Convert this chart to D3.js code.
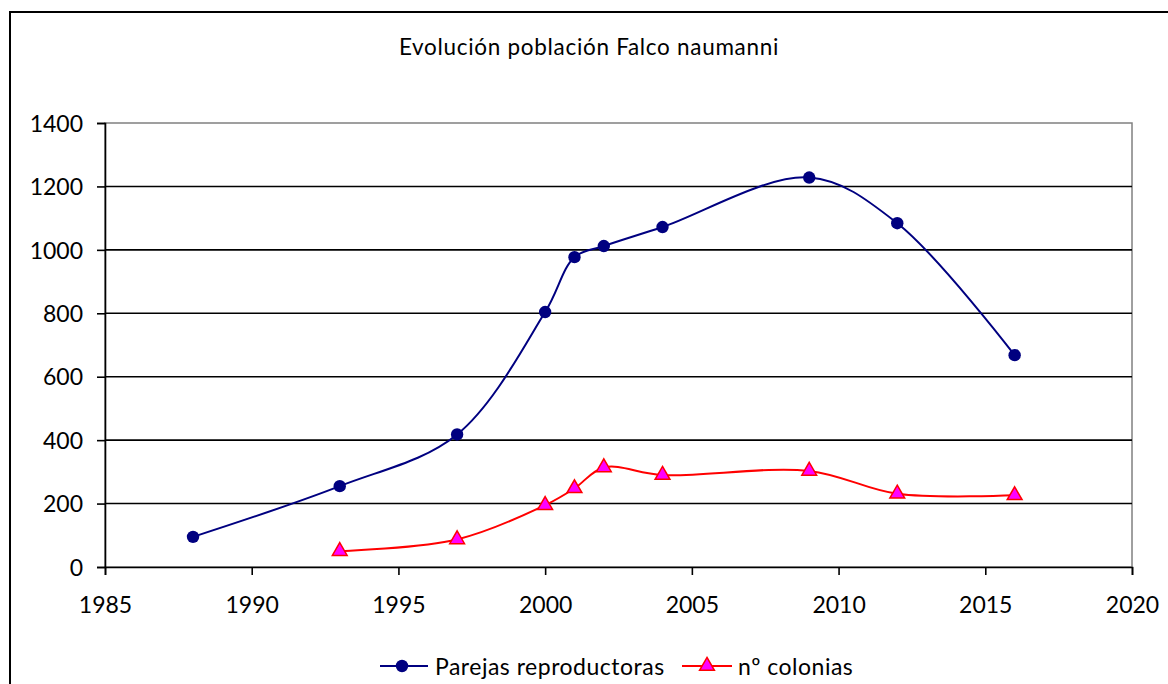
<!DOCTYPE html>
<html>
<head>
<meta charset="utf-8">
<script src="https://cdn.jsdelivr.net/npm/d3@7"></script>
<style>
html,body{margin:0;padding:0;background:#fff;}
svg{display:block;}
text{font-family:Lato, "Open Sans", sans-serif;fill:#000;}
</style>
</head>
<body>
<svg id="chart" width="1168" height="684"></svg>
<script>
const title = "Evolución población Falco naumanni";
const seriesNames = ["Parejas reproductoras", "nº colonias"];
const parejasYears = [1988, 1993, 1997, 2000, 2001, 2002, 2004, 2009, 2012, 2016];
const parejasValues = [95, 255, 418, 804, 977, 1012, 1072, 1228, 1084, 668];
const coloniasYears = [1993, 1997, 2000, 2001, 2002, 2004, 2009, 2012, 2016];
const coloniasValues = [50, 87, 195, 248, 314, 290, 303, 231, 226];
const xTicks = [1985, 1990, 1995, 2000, 2005, 2010, 2015, 2020];
const yTicks = [0, 200, 400, 600, 800, 1000, 1200, 1400];

const svg = d3.select("#chart");
const m = {left:105, right:1132, top:123, bottom:567};

const x = d3.scaleLinear().domain([1985, 2020]).range([m.left, m.right]);
const y = d3.scaleLinear().domain([0, 1400]).range([m.bottom, m.top]);

// outer chart border
svg.append("rect").attr("x",10).attr("y",12).attr("width",1170).attr("height",700)
  .attr("fill","none").attr("stroke","#000").attr("stroke-width",2);

// title
svg.append("text").attr("x",589).attr("y",55).attr("text-anchor","middle")
  .style("font-size","22.5px").style("letter-spacing","0.7px").text(title);

// plot area border
svg.append("rect").attr("x",m.left).attr("y",m.top).attr("width",m.right-m.left).attr("height",m.bottom-m.top)
  .attr("fill","none").attr("stroke","#808080").attr("stroke-width",1.5);

// gridlines
svg.append("g").selectAll("line").data(yTicks.filter(d=>d>0 && d<1400)).join("line")
  .attr("x1",m.left).attr("x2",m.right).attr("y1",d=>y(d)).attr("y2",d=>y(d))
  .attr("stroke","#000").attr("stroke-width",1.6);

// y axis
const yAxis = svg.append("g").attr("transform",`translate(${m.left},0)`)
  .call(d3.axisLeft(y).tickValues(yTicks).tickSize(8).tickPadding(14).tickFormat(d3.format("d")));
yAxis.select(".domain").attr("stroke","#000").attr("stroke-width",1.6);
yAxis.selectAll(".tick line").attr("stroke","#000").attr("stroke-width",1.6);
yAxis.selectAll(".tick text").style("font-size","23px").style("font-family","Lato").attr("dy","0.36em");

// x axis
const xAxis = svg.append("g").attr("transform",`translate(0,${m.bottom})`)
  .call(d3.axisBottom(x).tickValues(xTicks).tickSize(8).tickPadding(22).tickFormat(d3.format("d")));
xAxis.select(".domain").attr("stroke","#000").attr("stroke-width",1.6);
xAxis.selectAll(".tick line").attr("stroke","#000").attr("stroke-width",1.6);
xAxis.selectAll(".tick text").style("font-size","23px").style("font-family","Lato");

const line = d3.line().curve(d3.curveCatmullRom.alpha(0.5)).x(d=>x(d[0])).y(d=>y(d[1]));

const blueData = parejasYears.map((yr,i)=>[yr, parejasValues[i]]);
const redData = coloniasYears.map((yr,i)=>[yr, coloniasValues[i]]);

svg.append("path").datum(blueData).attr("d",line).attr("fill","none").attr("stroke","#000080").attr("stroke-width",2);
svg.append("path").datum(redData).attr("d",line).attr("fill","none").attr("stroke","#FF0000").attr("stroke-width",2);

const tri = d3.symbol().type(d3.symbolTriangle).size(95);

svg.append("g").selectAll("circle").data(blueData).join("circle")
  .attr("cx",d=>x(d[0])).attr("cy",d=>y(d[1])).attr("r",6.2).attr("fill","#000080");

svg.append("g").selectAll("path").data(redData).join("path")
  .attr("d",tri).attr("transform",d=>`translate(${x(d[0])},${y(d[1])})`)
  .attr("fill","#FF00FF").attr("stroke","#FF0000").attr("stroke-width",1.5);

// legend
const lg = svg.append("g");
const ly = 666;
lg.append("line").attr("x1",380).attr("x2",428).attr("y1",ly).attr("y2",ly).attr("stroke","#000080").attr("stroke-width",2);
lg.append("circle").attr("cx",402).attr("cy",ly).attr("r",6.2).attr("fill","#000080");
lg.append("text").attr("x",435).attr("y",675).style("font-size","23px").style("letter-spacing","0.5px").text(seriesNames[0]);
lg.append("line").attr("x1",682).attr("x2",732).attr("y1",ly).attr("y2",ly).attr("stroke","#FF0000").attr("stroke-width",2);
lg.append("path").attr("d",tri).attr("transform",`translate(707,${ly})`).attr("fill","#FF00FF").attr("stroke","#FF0000").attr("stroke-width",1.5);
lg.append("text").attr("x",738).attr("y",675).style("font-size","23px").style("letter-spacing","0.5px").text(seriesNames[1]);
</script>
</body>
</html>
